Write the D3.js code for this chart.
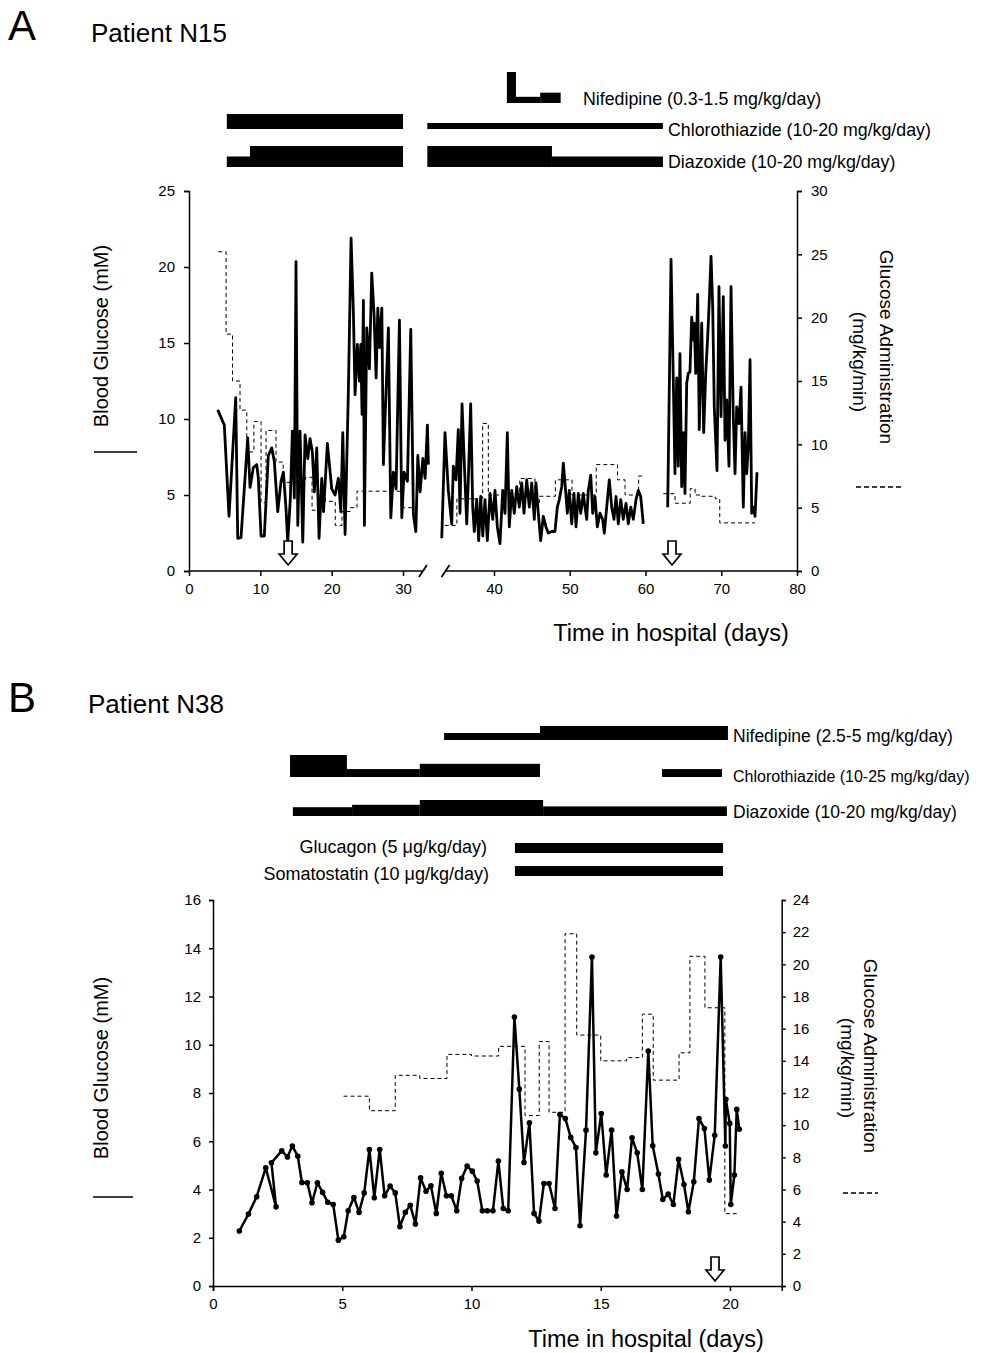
<!DOCTYPE html>
<html lang="en">
<head>
<meta charset="UTF-8" />
<title>Blood glucose and treatment - Patients N15 and N38</title>
<script src="https://cdnjs.cloudflare.com/ajax/libs/d3/7.8.5/d3.min.js"></script>
<style>
    body { margin: 0; background: #fff; }
    svg { display: block; font-family: 'Liberation Sans', Arial, Helvetica, sans-serif; }
</style>
</head>
<body>
<svg id="chart" width="998" height="1353"></svg>
<script>
    // ---------- Patient N15 (panel A) ----------
    // blood glucose (mM) as [day, value]; three runs (left of the axis break, middle, last)
    const glucoseA1 = [[4.03,10.6],[4.95,9.6],[5.61,3.6],[6.55,11.4],[6.83,2.15],[7.29,2.2],[8.23,8.75],[8.56,5.5],
        [9.02,6.8],[9.5,7.0],[9.72,6.1],[10.1,2.3],[10.56,2.3],[11.12,7.6],[11.6,8.1],[11.96,7.2],[12.44,3.9],
        [12.9,5.9],[13.23,6.5],[13.6,4.1],[13.84,1.9],[14.21,4.8],[14.49,9.2],[14.77,4.8],[15.0,20.35],[15.25,3.0],
        [15.57,9.2],[15.95,1.9],[16.27,8.95],[16.65,7.4],[16.97,8.7],[17.29,7.85],[17.57,5.2],[17.91,8.1],
        [18.23,2.15],[18.61,6.1],[18.86,3.9],[19.4,8.4],[20.01,5.4],[20.48,5.0],[20.94,6.1],[21.28,3.9],
        [21.56,9.1],[21.88,2.4],[22.34,11.8],[22.72,21.9],[23.04,17.1],[23.28,11.6],[23.6,14.9],[23.88,12.5],
        [24.08,14.9],[24.26,10.3],[24.45,17.8],[24.59,3.0],[24.92,16.0],[25.29,13.3],[25.62,19.6],[25.95,16.8],
        [26.23,12.7],[26.47,17.3],[26.69,14.7],[27.03,17.3],[27.25,7.0],[27.95,16.0],[28.29,3.5],[28.65,6.5],
        [29.03,5.4],[29.5,16.5],[29.83,3.5],[30.15,6.5],[30.62,5.9],[31.09,15.9],[31.46,3.7],[31.8,2.6],
        [32.08,7.6],[32.4,5.2],[32.78,7.4],[33.1,6.1],[33.42,9.6],[33.56,7.0]];
    const glucoseA2 = [[33.1,2.15],[33.53,9.1],[33.97,5.3],[34.42,3.1],[34.63,6.9],[34.98,6.0],[35.29,9.3],
        [35.51,3.8],[35.78,11.0],[36.08,7.1],[36.4,3.1],[36.61,6.0],[36.92,11.0],[37.19,4.2],[37.4,2.6],
        [37.72,4.7],[37.98,2.0],[38.24,4.9],[38.51,2.3],[38.81,4.7],[39.12,2.0],[39.47,5.1],[39.83,3.4],
        [40.13,5.3],[40.44,2.9],[40.79,1.8],[41.15,5.3],[41.45,3.8],[41.76,9.1],[42.02,2.9],[42.34,5.3],
        [42.68,3.8],[43.0,5.55],[43.34,4.2],[43.66,5.8],[43.96,3.8],[44.32,6.0],[44.66,4.2],[44.98,5.8],
        [45.32,3.4],[45.54,5.8],[45.85,3.8],[46.16,2.0],[46.51,3.6],[46.86,2.9],[47.17,2.5],[47.62,2.6],
        [48.05,2.6],[48.36,4.2],[48.62,4.7],[48.94,5.55],[49.15,7.1],[49.41,5.55],[49.68,3.8],[49.94,5.3],
        [50.26,3.1],[50.56,5.1],[50.83,2.9],[51.13,5.1],[51.45,3.8],[51.79,5.1],[52.01,4.2],[52.24,3.4],
        [52.45,5.3],[52.77,6.3],[53.03,3.8],[53.33,4.9],[53.64,2.9],[53.99,3.8],[54.35,3.4],[54.56,2.5],
        [54.88,4.2],[55.22,6.0],[55.54,4.2],[55.84,3.4],[56.11,4.9],[56.41,3.1],[56.73,4.7],[57.07,3.4],
        [57.43,4.45],[57.73,3.1],[58.05,4.2],[58.39,3.4],[58.75,4.7],[59.05,5.3],[59.37,4.9],[59.71,3.1]];
    const glucoseA3 = [[62.93,4.2],[63.37,20.5],[63.67,12.6],[63.89,6.4],[64.12,12.7],[64.33,6.9],[64.55,14.3],
        [64.78,5.55],[64.99,9.1],[65.21,5.1],[65.44,12.35],[65.65,13.0],[65.87,13.1],[66.1,16.7],[66.31,15.2],
        [66.44,16.3],[66.63,13.0],[66.89,18.2],[67.1,9.3],[67.42,16.3],[67.68,9.1],[67.95,13.0],[68.21,15.4],
        [68.42,17.8],[68.65,20.7],[68.87,17.4],[69.08,10.8],[69.44,6.6],[69.7,18.7],[69.97,10.15],[70.27,18.05],
        [70.5,8.6],[70.72,11.25],[71.02,6.9],[71.29,18.7],[71.59,10.15],[71.82,6.4],[72.04,10.8],[72.34,9.7],
        [72.61,12.1],[72.91,4.2],[73.14,9.1],[73.36,6.4],[73.57,8.2],[73.8,13.9],[74.02,3.8],[74.23,4.2],
        [74.46,3.6],[74.72,6.5]];

    // glucose administration (mg/kg/min): [day the rate starts, rate]; last pair closes the run
    const infusionA1 = [[4.1,25.2],[5.2,18.7],[6.1,15.0],[7.15,12.7],[8.1,9.4],[9.1,11.8],[10.1,5.4],[10.8,11.1],
        [12.2,8.6],[13.2,7.0],[16.3,7.4],[17.25,4.8],[18.4,6.4],[19.1,5.5],[20.5,3.6],[21.45,4.7],[22.6,5.0],
        [23.55,6.3],[29.9,5.0],[32.1,5.0]];
    const infusionA2 = [[33.5,3.6],[35.1,5.7],[38.5,11.65],[39.25,6.0],[43.4,7.3],[45.4,5.4],[46.0,5.9],
        [48.1,7.2],[50.3,6.0],[53.5,8.4],[56.3,7.2],[57.3,6.0],[59.1,7.5],[59.8,7.5]];
    const infusionA3 = [[62.35,6.1],[63.9,5.35],[65.9,6.5],[66.55,6.0],[67.4,5.9],[69.2,5.7],[69.8,3.8],[74.45,3.8]];

    // drug courses: [start day, end day, dose]
    const nifedipineA = [[41.7,42.9,1.5],[42.9,46.1,0.3],[46.1,48.8,0.5]];
    const chlorothiazideA = [[5.3,30,20],[31.2,62.3,8]];
    const diazoxideA = [[5.3,8.55,10],[8.55,30,20],[31.2,47.65,20],[47.65,62.3,10]];
    const arrowsA = [13.9, 63.5];

    const xTicksALeft = [0, 10, 20, 30];
    const xTicksARight = [40, 50, 60, 70, 80];
    const yTicksA = [0, 5, 10, 15, 20, 25];
    const yTicksARight = [0, 5, 10, 15, 20, 25, 30];

    // ---------- Patient N38 (panel B) ----------
    const glucoseB = [[1.02,2.28],[1.37,2.98],[1.69,3.70],[2.04,4.90],[2.44,3.28],[2.26,5.11],[2.66,5.60],
        [2.88,5.35],[3.07,5.80],[3.28,5.38],[3.44,4.29],[3.65,4.28],[3.83,3.45],[4.04,4.28],[4.24,3.88],
        [4.44,3.47],[4.65,3.38],[4.85,1.90],[5.06,2.04],[5.23,3.12],[5.45,3.67],[5.65,3.05],[5.85,3.86],
        [6.05,5.66],[6.24,3.66],[6.45,5.66],[6.64,3.74],[6.85,4.14],[7.05,3.86],[7.23,2.46],[7.44,3.05],
        [7.63,3.35],[7.83,2.57],[8.03,4.48],[8.24,3.93],[8.43,4.15],[8.64,3.01],[8.83,4.67],[9.03,3.74],
        [9.22,3.74],[9.43,3.12],[9.62,4.46],[9.83,4.97],[10.03,4.76],[10.22,4.35],[10.42,3.12],[10.61,3.12],
        [10.83,3.12],[11.04,5.18],[11.23,3.21],[11.42,3.12],[11.66,11.15],[11.85,8.16],[12.03,5.12],
        [12.24,6.76],[12.42,3.01],[12.61,2.69],[12.80,4.25],[13.0,4.25],[13.23,3.21],[13.42,7.11],[13.63,6.94],
        [13.84,6.16],[14.04,5.74],[14.2,2.50],[14.43,6.46],[14.66,13.64],[14.81,5.52],[15.02,7.15],[15.21,4.60],
        [15.42,6.46],[15.61,2.90],[15.82,4.73],[16.02,4.00],[16.21,6.14],[16.41,5.52],[16.61,4.00],[16.84,9.74],
        [17.01,5.81],[17.23,4.64],[17.40,3.59],[17.61,3.81],[17.81,3.38],[18.01,5.25],[18.22,4.21],[18.39,3.08],
        [18.60,4.32],[18.80,6.94],[19.01,6.53],[19.20,4.39],[19.41,6.25],[19.64,13.64],[19.82,5.80],[19.84,7.74],
        [19.99,6.74],[20.03,3.38],[20.17,4.60],[20.26,7.32],[20.36,6.50]];
    const infusionB = [[5.05,11.8],[6.05,10.9],[7.05,13.1],[8.0,12.9],[9.05,14.4],[10.0,14.3],[11.05,14.9],
        [12.07,10.6],[12.62,15.2],[13.0,10.8],[13.62,21.9],[14.07,15.6],[15.0,14.0],[16.0,14.2],[16.61,16.9],
        [17.03,12.8],[18.03,14.5],[18.45,20.5],[19.03,17.3],[19.8,4.5],[20.26,4.5]];

    const nifedipineB = [[8.94,12.65,2.5],[12.65,19.92,5]];
    const chlorothiazideB = [[2.98,5.18,25],[5.18,8.0,9],[8.0,12.65,15],[17.37,19.69,9]];
    const diazoxideB = [[3.09,5.38,11],[5.38,8.0,14],[8.0,12.77,20],[12.77,19.88,12]];
    const glucagonB = [[11.68,19.73,5]];
    const somatostatinB = [[11.68,19.73,10]];
    const arrowsB = [19.42];

    const xTicksB = [0, 5, 10, 15, 20];
    const yTicksB = [0, 2, 4, 6, 8, 10, 12, 14, 16];
    const yTicksBRight = [0, 2, 4, 6, 8, 10, 12, 14, 16, 18, 20, 22, 24];

    // ---------- drawing ----------
    const svg = d3.select("#chart");
    svg.append("rect").attr("width", 998).attr("height", 1353).attr("fill", "#fff");

    function styleAxis(g, size) {
        g.select(".domain").attr("stroke", "#000").attr("stroke-width", 1.5);
        g.selectAll(".tick line").attr("stroke", "#000").attr("stroke-width", 1.5);
        g.selectAll(".tick text").attr("fill", "#000").attr("font-size", size || 15);
    }

    function drawBars(g, segs, xf, base, thick) {
        g.append("g").selectAll("rect")
            .data(segs)
            .join("rect")
            .attr("x", d => xf(d[0]))
            .attr("width", d => xf(d[1]) - xf(d[0]))
            .attr("y", d => base - thick(d[2]))
            .attr("height", d => thick(d[2]))
            .attr("fill", "#000");
    }

    function drawArrow(g, x, tipY) {
        g.append("path")
            .attr("d", `M${x - 4},${tipY - 24} h8 v13 h5 l-9,11 l-9,-11 h5 z`)
            .attr("fill", "#fff")
            .attr("stroke", "#000")
            .attr("stroke-width", 1.7);
    }

    function glucoseLine(g, data, xs, ys, w) {
        g.append("path")
            .datum(data)
            .attr("fill", "none")
            .attr("stroke", "#000")
            .attr("stroke-width", w)
            .attr("stroke-linejoin", "round")
            .attr("d", d3.line().x(d => xs(d[0])).y(d => ys(d[1])));
    }

    function infusionLine(g, data, xs, ys) {
        g.append("path")
            .datum(data)
            .attr("fill", "none")
            .attr("stroke", "#000")
            .attr("stroke-width", 1)
            .attr("stroke-dasharray", "4,3")
            .attr("d", d3.line().curve(d3.curveStepAfter).x(d => xs(d[0])).y(d => ys(d[1])));
    }

    function label(g, txt, x, y, size, anchor, rotate) {
        const t = g.append("text")
            .attr("x", x).attr("y", y)
            .attr("font-size", size)
            .attr("text-anchor", anchor || "start")
            .attr("fill", "#000")
            .text(txt);
        if (rotate) t.attr("transform", `rotate(${rotate},${x},${y})`);
        return t;
    }

    // ===== Panel A =====
    const xAL = d3.scaleLinear().domain([0, 30]).range([189, 403]);
    const xAR = d3.scaleLinear().domain([40, 80]).range([494, 797]);
    const yA = d3.scaleLinear().domain([0, 25]).range([571, 191]);
    const yAR = d3.scaleLinear().domain([0, 30]).range([571, 191]);
    const xBarA = d => d <= 30.5 ? xAL(d) : xAR(d);

    const gA = svg.append("g");
    label(gA, "A", 8, 40, 42);
    label(gA, "Patient N15", 91, 42, 26);

    drawBars(gA, nifedipineA, xBarA, 103, d3.scaleLinear().domain([0, 1.5]).range([0, 31]));
    drawBars(gA, chlorothiazideA, xBarA, 129, d3.scaleLinear().domain([0, 20]).range([0, 15]));
    drawBars(gA, diazoxideA, xBarA, 167, d3.scaleLinear().domain([0, 20]).range([0, 21]));
    label(gA, "Nifedipine (0.3-1.5 mg/kg/day)", 583, 105, 17.8);
    label(gA, "Chlorothiazide (10-20 mg/kg/day)", 668, 136, 17.8);
    label(gA, "Diazoxide (10-20 mg/kg/day)", 668, 168, 17.8);

    gA.append("g").attr("transform", `translate(${xAL(0)},0)`)
        .call(d3.axisLeft(yA).tickValues(yTicksA).tickSizeOuter(0).tickSize(5).tickPadding(9))
        .call(g => styleAxis(g));
    gA.append("g").attr("transform", `translate(${xAR(80)},0)`)
        .call(d3.axisRight(yAR).tickValues(yTicksARight).tickSizeOuter(0).tickSize(5).tickPadding(9))
        .call(g => styleAxis(g));

    const axAL = gA.append("g").attr("transform", `translate(0,${yA(0)})`)
        .call(d3.axisBottom(xAL).tickValues(xTicksALeft).tickSize(5).tickPadding(7))
        .call(g => styleAxis(g));
    axAL.select(".domain").remove();
    const axAR = gA.append("g").attr("transform", `translate(0,${yA(0)})`)
        .call(d3.axisBottom(xAR).tickValues(xTicksARight).tickSize(5).tickPadding(7))
        .call(g => styleAxis(g));
    axAR.select(".domain").remove();
    // broken x axis
    const breakL = xAL(32.8), breakR = xAR(33.6), yBase = yA(0);
    gA.append("line").attr("x1", xAL(0)).attr("x2", breakL).attr("y1", yBase).attr("y2", yBase)
        .attr("stroke", "#000").attr("stroke-width", 1.5);
    gA.append("line").attr("x1", breakR).attr("x2", xAR(80)).attr("y1", yBase).attr("y2", yBase)
        .attr("stroke", "#000").attr("stroke-width", 1.5);
    [breakL, breakR].forEach(bx => {
        gA.append("line").attr("x1", bx - 4).attr("y1", yBase + 6).attr("x2", bx + 4).attr("y2", yBase - 6)
            .attr("stroke", "#000").attr("stroke-width", 1.8);
    });

    infusionLine(gA, infusionA1, xAL, yAR);
    infusionLine(gA, infusionA2, xAR, yAR);
    infusionLine(gA, infusionA3, xAR, yAR);
    glucoseLine(gA, glucoseA1, xAL, yA, 2.8);
    glucoseLine(gA, glucoseA2, xAR, yA, 2.8);
    glucoseLine(gA, glucoseA3, xAR, yA, 2.8);

    drawArrow(gA, xAL(arrowsA[0]), 565);
    drawArrow(gA, xAR(arrowsA[1]), 565);

    label(gA, "Blood Glucose (mM)", 108, 336, 20, "middle", -90);
    gA.append("line").attr("x1", 94).attr("x2", 137).attr("y1", 452).attr("y2", 452)
        .attr("stroke", "#000").attr("stroke-width", 1.5);
    label(gA, "Glucose Administration", 880, 347, 19, "middle", 90);
    label(gA, "(mg/kg/min)", 853, 362, 19, "middle", 90);
    gA.append("line").attr("x1", 856).attr("x2", 903).attr("y1", 487).attr("y2", 487)
        .attr("stroke", "#000").attr("stroke-width", 1.5).attr("stroke-dasharray", "5,3");
    label(gA, "Time in hospital (days)", 671, 641, 23.5, "middle");

    // ===== Panel B =====
    const xB = d3.scaleLinear().domain([0, 22]).range([213, 781.7]);
    const yB = d3.scaleLinear().domain([0, 16]).range([1286, 900]);
    const yBR = d3.scaleLinear().domain([0, 24]).range([1286, 900]);

    const gB = svg.append("g");
    label(gB, "B", 8, 712, 42);
    label(gB, "Patient N38", 88, 713, 26);

    drawBars(gB, nifedipineB, xB, 740, d3.scaleLinear().domain([0, 5]).range([0, 14]));
    drawBars(gB, chlorothiazideB, xB, 777, d3.scaleLinear().domain([0, 25]).range([0, 22]));
    drawBars(gB, diazoxideB, xB, 816, d3.scaleLinear().domain([0, 20]).range([0, 16]));
    drawBars(gB, glucagonB, xB, 853, d3.scaleLinear().domain([0, 5]).range([0, 10]));
    drawBars(gB, somatostatinB, xB, 876, d3.scaleLinear().domain([0, 10]).range([0, 10]));
    label(gB, "Nifedipine (2.5-5 mg/kg/day)", 733, 742, 17.5);
    label(gB, "Chlorothiazide (10-25 mg/kg/day)", 733, 782, 16);
    label(gB, "Diazoxide (10-20 mg/kg/day)", 733, 818, 17.5);
    label(gB, "Glucagon (5 μg/kg/day)", 487, 853, 18, "end");
    label(gB, "Somatostatin (10 μg/kg/day)", 489, 880, 18, "end");

    gB.append("g").attr("transform", `translate(${xB(0)},0)`)
        .call(d3.axisLeft(yB).tickValues(yTicksB).tickSizeOuter(0).tickSize(4).tickPadding(8))
        .call(g => styleAxis(g));
    gB.append("g").attr("transform", `translate(${xB(22)},0)`)
        .call(d3.axisRight(yBR).tickValues(yTicksBRight).tickSizeOuter(0).tickSize(4).tickPadding(7))
        .call(g => styleAxis(g));
    gB.append("g").attr("transform", `translate(0,${yB(0)})`)
        .call(d3.axisBottom(xB).tickValues(xTicksB).tickSizeOuter(0).tickSize(5).tickPadding(7))
        .call(g => styleAxis(g));

    infusionLine(gB, infusionB, xB, yBR);
    glucoseLine(gB, glucoseB, xB, yB, 2.5);
    gB.append("g").selectAll("circle")
        .data(glucoseB)
        .join("circle")
        .attr("cx", d => xB(d[0]))
        .attr("cy", d => yB(d[1]))
        .attr("r", 2.8)
        .attr("fill", "#000");

    arrowsB.forEach(d => drawArrow(gB, xB(d), 1281));

    label(gB, "Blood Glucose (mM)", 108, 1068, 20, "middle", -90);
    gB.append("line").attr("x1", 93).attr("x2", 133).attr("y1", 1197).attr("y2", 1197)
        .attr("stroke", "#000").attr("stroke-width", 1.5);
    label(gB, "Glucose Administration", 864, 1056, 19, "middle", 90);
    label(gB, "(mg/kg/min)", 841, 1068, 19, "middle", 90);
    gB.append("line").attr("x1", 843).attr("x2", 878).attr("y1", 1193).attr("y2", 1193)
        .attr("stroke", "#000").attr("stroke-width", 1.5).attr("stroke-dasharray", "5,3");
    label(gB, "Time in hospital (days)", 646, 1347, 23.5, "middle");
</script>
</body>
</html>
